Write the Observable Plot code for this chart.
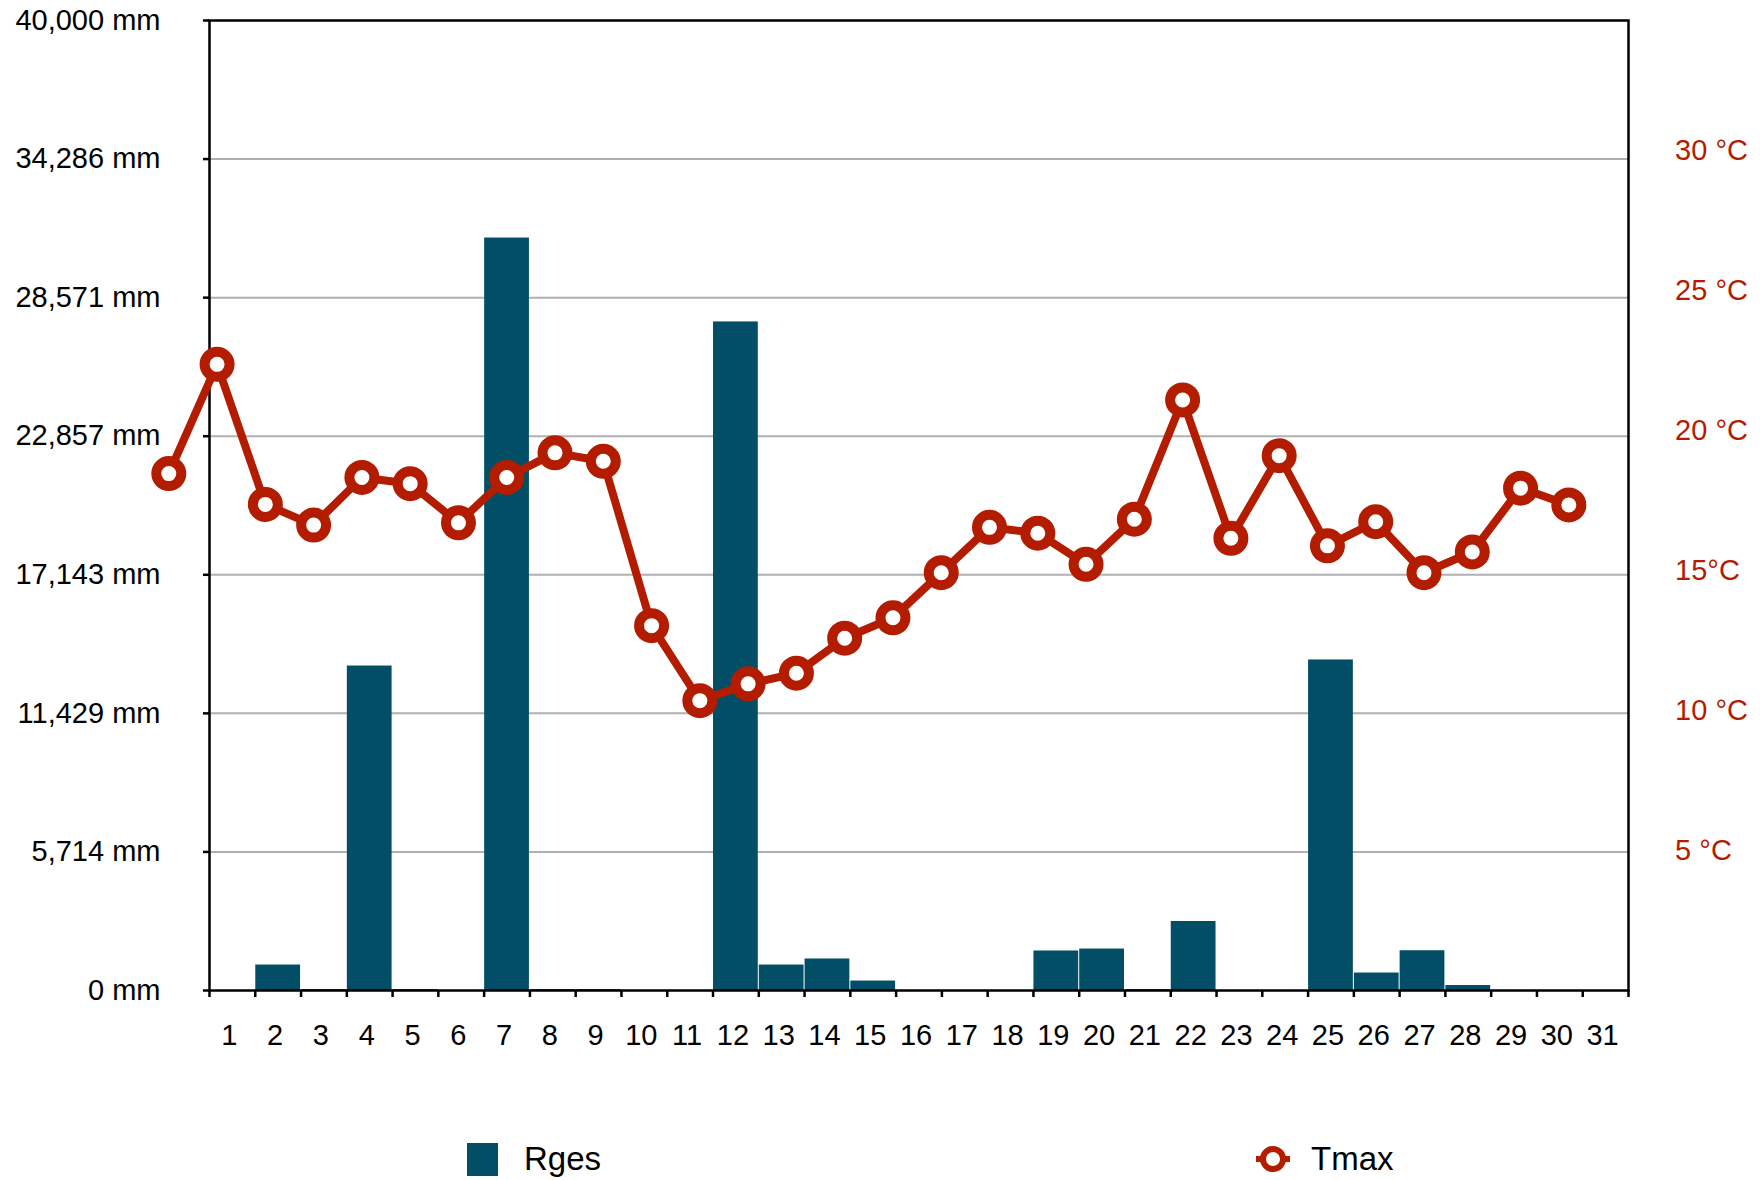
<!DOCTYPE html>
<html>
<head>
<meta charset="utf-8">
<script src="https://cdn.jsdelivr.net/npm/d3@7"></script>
<script src="https://cdn.jsdelivr.net/npm/@observablehq/plot@0.6"></script>
<style>
  html, body { margin: 0; padding: 0; background: #ffffff; }
  #chart { position: relative; width: 1760px; height: 1110px; }
  #chart svg { position: absolute; left: 0; top: 0; background: transparent; }
  #legend { position: relative; width: 1760px; height: 70px; font-family: "Liberation Sans", Arial, sans-serif; font-size: 33px; color: #000; }
  .item { position: absolute; top: 49px; transform: translateY(-50%); display: flex; align-items: center; }
</style>
</head>
<body>
<div id="chart"></div>
<div id="legend"></div>
<script>
// ---- data ----
const days = d3.range(1, 32);
const dayLabels = days.map(String);
const rges = [0, 1050, 40, 13380, 40, 0, 31030, 40, 40, 0, 0, 27570, 1050, 1300, 390, 0,
              0, 0, 1630, 1710, 40, 2845, 0, 0, 13630, 720, 1640, 206, 0, 0, 0];
const tmax = [18.46, 22.36, 17.36, 16.62, 18.32, 18.10, 16.70, 18.32, 19.20, 18.90,
              13.03, 10.35, 10.95, 11.33, 12.58, 13.31, 14.92, 16.54, 16.33, 15.22,
              16.83, 21.09, 16.15, 19.10, 15.88, 16.74, 14.92, 15.66, 17.94, 17.34];
const mmTickLabels = ["0 mm", "5,714 mm", "11,429 mm", "17,143 mm", "22,857 mm", "28,571 mm", "34,286 mm", "40,000 mm"];
const mmMax = 40000;
const tempTicks = [5, 10, 15, 20, 25, 30];
const tempTickLabels = ["5 °C", "10 °C", "15°C", "20 °C", "25 °C", "30 °C"];
const tempMax = 34.64;
const seriesNames = ["Rges", "Tmax"];

// ---- styles ----
const TEAL = "#024e66";
const RED = "#b41c00";
const FONT = "'Liberation Sans', Arial, Helvetica, sans-serif";
const W = 1760, H = 1110;

const barRows = days.map((d, i) => ({day: d, rges: rges[i]}));
const lineRows = tmax.map((t, i) => ({day: days[i], tmax: t}));
const mmTickValues = mmTickLabels.map((_, k) => k * mmMax / (mmTickLabels.length - 1));
const mmLabelOf = new Map(mmTickValues.map((v, k) => [v, mmTickLabels[k]]));
const tempLabelOf = new Map(tempTicks.map((v, k) => [v, tempTickLabels[k]]));

const chart = document.getElementById("chart");

const bars = Plot.plot({
  width: W, height: H,
  marginLeft: 209, marginRight: 132, marginTop: 20, marginBottom: 120,
  style: {fontFamily: FONT, fontSize: "29px", color: "#000", background: "transparent"},
  x: {type: "linear", domain: [0, days.length]},
  y: {domain: [0, mmMax]},
  marks: [
    Plot.gridY(mmTickValues.slice(1, -1), {stroke: "#b0b0b0", strokeOpacity: 1, strokeWidth: 2}),
    Plot.rectY(barRows, {x1: d => d.day - 1, x2: "day", y: "rges", fill: TEAL, insetLeft: 0.5, insetRight: 0.5}),
    Plot.axisY({ticks: mmTickValues, tickFormat: d => mmLabelOf.get(d), tickSize: 6, tickPadding: 43, strokeWidth: 2.5, fill: "#000", label: null}),
    Plot.axisX({ticks: d3.range(0, days.length + 1), tickFormat: () => "", tickSize: 7, strokeWidth: 2.5, label: null}),
    Plot.axisX({ticks: days.map(d => d - 0.5), tickFormat: t => dayLabels[Math.round(t - 0.5)], tickSize: 0, tickPadding: 34, dx: -3, fill: "#000", label: null}),
    Plot.frame({stroke: "#000", strokeWidth: 2.5})
  ]
});
chart.appendChild(bars);

const lines = Plot.plot({
  width: W, height: H,
  marginLeft: 168.3, marginRight: 143.4, marginTop: 20, marginBottom: 120,
  style: {fontFamily: FONT, fontSize: "29px", background: "transparent"},
  x: {type: "linear", domain: [1, days.length], axis: null},
  y: {domain: [0, tempMax]},
  marks: [
    Plot.axisY({anchor: "right", ticks: tempTicks, tickFormat: d => tempLabelOf.get(d), tickSize: 0, tickPadding: 58, fill: RED, label: null}),
    Plot.line(lineRows, {x: "day", y: "tmax", stroke: RED, strokeWidth: 8, strokeLinejoin: "round"}),
    Plot.dot(lineRows, {x: "day", y: "tmax", r: 12.5, fill: "#ffffff", stroke: RED, strokeWidth: 10})
  ]
});
chart.appendChild(lines);

// ---- legend ----
const legend = document.getElementById("legend");
const it1 = document.createElement("div");
it1.className = "item";
it1.style.left = "467px";
it1.innerHTML = `<span style="display:inline-block;width:31px;height:33px;background:${TEAL};margin-right:26px"></span><span>${seriesNames[0]}</span>`;
legend.appendChild(it1);
const it2 = document.createElement("div");
it2.className = "item";
it2.style.left = "1254px";
it2.innerHTML = `<svg width="38" height="34" style="margin-right:19px;overflow:visible"><line x1="2" y1="17" x2="36" y2="17" stroke="${RED}" stroke-width="6"/><circle cx="19" cy="17" r="10" fill="#fff" stroke="${RED}" stroke-width="6"/></svg><span>${seriesNames[1]}</span>`;
legend.appendChild(it2);
</script>
</body>
</html>
